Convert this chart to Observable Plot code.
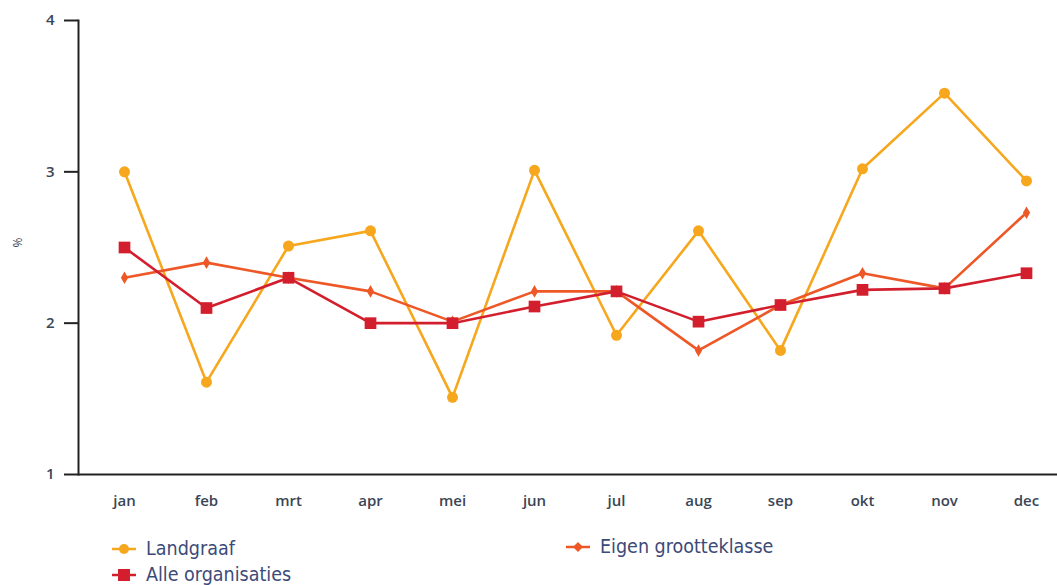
<!DOCTYPE html>
<html>
<head>
<meta charset="utf-8">
<script src="https://cdn.jsdelivr.net/npm/d3@7"></script>
<script src="https://cdn.jsdelivr.net/npm/@observablehq/plot@0.6"></script>
<style>
  html, body { margin: 0; padding: 0; background: #fff; }
  #chart { position: relative; width: 1057px; }
  .legend { position: relative; height: 55px; font-family: "DejaVu Sans Condensed", "DejaVu Sans", sans-serif; font-size: 19.5px; color: #3c4a78; }
  .item { position: absolute; display: flex; align-items: center; line-height: 20px; }
  .item svg { margin-right: 10px; }
</style>
</head>
<body>
<div id="chart"></div>
<script>
const months = ["jan","feb","mrt","apr","mei","jun","jul","aug","sep","okt","nov","dec"];
const landgraaf = [3.0, 1.61, 2.51, 2.61, 1.51, 3.01, 1.92, 2.61, 1.82, 3.02, 3.52, 2.94];
const eigen     = [2.3, 2.4, 2.3, 2.21, 2.01, 2.21, 2.21, 1.82, 2.12, 2.33, 2.23, 2.73];
const alle      = [2.5, 2.1, 2.3, 2.0, 2.0, 2.11, 2.21, 2.01, 2.12, 2.22, 2.23, 2.33];
const yTicks = [1, 2, 3, 4];
const seriesNames = ["Landgraaf", "Eigen grootteklasse", "Alle organisaties"];
const colors = ["#F6A71D", "#EE5726", "#D31F2D"];

const rows = s => months.map((m, i) => ({month: m, value: s[i]}));
const dL = rows(landgraaf), dE = rows(eigen), dA = rows(alle);

const plot = Plot.plot({
  width: 1057,
  height: 530,
  marginLeft: 78,
  marginRight: 0,
  marginTop: 20,
  marginBottom: 56,
  style: {fontFamily: "'Open Sans', sans-serif", fontSize: "15px", color: "#3a4556", background: "#fff"},
  x: {type: "point", domain: months, range: [120, 1030], padding: 0, label: null},
  y: {domain: [1, 4], label: null},
  marks: [
    Plot.axisY({ticks: yTicks, tickFormat: d => d, tickSize: 14, tickPadding: 10, strokeWidth: 2, stroke: "#222", fontWeight: 600, fontSize: 15, label: null}),
    Plot.axisX({tickSize: 0, tickPadding: 21, fontWeight: 600, fontSize: 15, label: null}),
    Plot.frame({anchor: "left", stroke: "#222", strokeWidth: 2}),
    Plot.ruleY([1], {stroke: "#222", strokeWidth: 2}),
    Plot.text(["%"], {frameAnchor: "left", dx: -60, y: 2.5, rotate: -90, fontSize: 12, fill: "#3a4556"}),
    Plot.line(dL, {x: "month", y: "value", stroke: colors[0], strokeWidth: 2.6}),
    Plot.dot(dL, {x: "month", y: "value", fill: colors[0], r: 5.5, symbol: "circle"}),
    Plot.line(dE, {x: "month", y: "value", stroke: colors[1], strokeWidth: 2.6}),
    Plot.dot(dE, {x: "month", y: "value", fill: colors[1], r: 3.8, symbol: "diamond"}),
    Plot.line(dA, {x: "month", y: "value", stroke: colors[2], strokeWidth: 2.6}),
    Plot.dot(dA, {x: "month", y: "value", fill: colors[2], r: 6.6, symbol: "square"})
  ]
});
document.getElementById("chart").appendChild(plot);

// legend
const legend = document.createElement("div");
legend.className = "legend";
const positions = [[112, 9], [566, 7], [112, 35]];
const symbols = ["circle", "diamond", "square"];
seriesNames.forEach((name, i) => {
  const item = document.createElement("div");
  item.className = "item";
  item.style.left = positions[i][0] + "px";
  item.style.top = positions[i][1] + "px";
  const sym = symbols[i];
  let marker;
  if (sym === "circle") marker = `<circle cx="12" cy="8" r="5" fill="${colors[i]}"/>`;
  else if (sym === "diamond") marker = `<path d="M12 3 L17 8 L12 13 L7 8Z" fill="${colors[i]}"/>`;
  else marker = `<rect x="6" y="2" width="12" height="12" fill="${colors[i]}"/>`;
  item.innerHTML = `<svg width="24" height="16"><line x1="0" x2="24" y1="8" y2="8" stroke="${colors[i]}" stroke-width="2.5"/>${marker}</svg><span>${name}</span>`;
  legend.appendChild(item);
});
document.getElementById("chart").appendChild(legend);
</script>
</body>
</html>
